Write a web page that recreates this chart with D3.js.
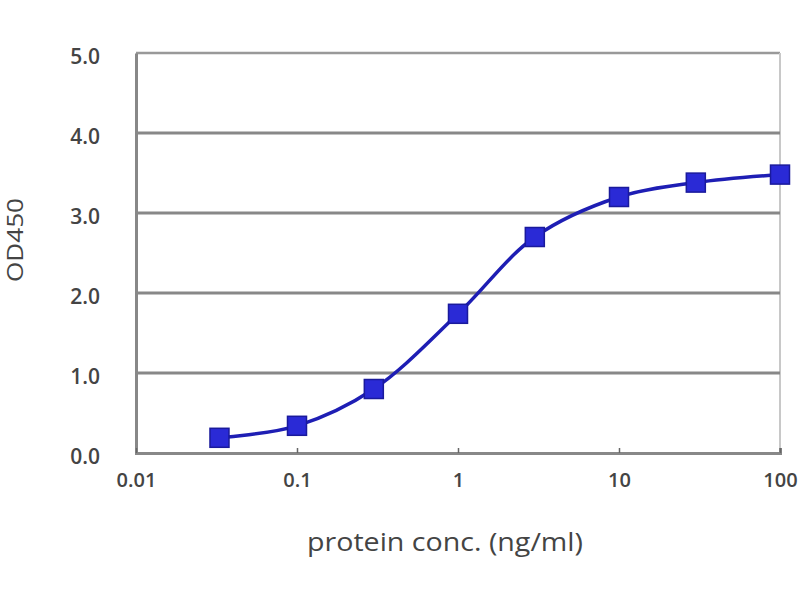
<!DOCTYPE html>
<html><head><meta charset="utf-8">
<script src="https://cdn.jsdelivr.net/npm/d3@7"></script>
<style>body{margin:0;background:#fff}</style>
</head><body>
<svg id="c" width="800" height="600"></svg>
<script>
const conc = [0.033, 0.1, 0.3, 1, 3, 10, 30, 100];
const od = [0.19, 0.34, 0.80, 1.74, 2.70, 3.20, 3.38, 3.48];
const xTicks = [0.01, 0.1, 1, 10, 100];
const xTickLabels = ["0.01", "0.1", "1", "10", "100"];
const yTicks = [0, 1, 2, 3, 4, 5];
const yTickLabels = ["0.0", "1.0", "2.0", "3.0", "4.0", "5.0"];

const svg = d3.select("#c");
const L = 136, R = 780, T = 53, B = 453;
const x = d3.scaleLog().domain([0.01, 100]).range([L, R]);
const y = d3.scaleLinear().domain([0, 5]).range([B, T]);
const font = "Open Sans, sans-serif";

// plot border (top/right)
svg.append("line").attr("x1", L).attr("x2", R).attr("y1", T).attr("y2", T)
  .attr("stroke", "#999").attr("stroke-width", 2.5);
svg.append("line").attr("x1", R).attr("x2", R).attr("y1", T).attr("y2", B)
  .attr("stroke", "#c8c8c8").attr("stroke-width", 2);

// gridlines
svg.append("g").selectAll("line").data(yTicks.filter(d => d > 0 && d < 5)).join("line")
  .attr("x1", L).attr("x2", R).attr("y1", d => y(d)).attr("y2", d => y(d))
  .attr("stroke", "#888").attr("stroke-width", 3);

// y axis
const ya = svg.append("g").attr("transform", `translate(${L},0)`)
  .call(d3.axisLeft(y).tickValues(yTicks).tickFormat((d, i) => yTickLabels[i]).tickSize(0).tickPadding(36));
ya.select(".domain").attr("stroke", "#888").attr("stroke-width", 3);
ya.selectAll("text").attr("font-family", font).attr("font-size", 21)
  .attr("fill", "#444").attr("font-weight", 600).attr("dy", "0.5em");

// x axis
const xa = svg.append("g").attr("transform", `translate(0,${B})`)
  .call(d3.axisBottom(x).tickValues(xTicks).tickFormat((d, i) => xTickLabels[i]).tickSize(-5).tickPadding(20));
xa.select(".domain").attr("stroke", "#888").attr("stroke-width", 3);
xa.selectAll(".tick line").attr("stroke", "#666").attr("stroke-width", 1.5);
xa.selectAll("text").attr("font-family", font).attr("font-size", 20)
  .attr("fill", "#444").attr("font-weight", 600);

// axis titles
svg.append("text").attr("x", 445).attr("y", 551).attr("text-anchor", "middle")
  .attr("font-family", font).attr("font-size", 25).attr("fill", "#444")
  .attr("textLength", 276).attr("lengthAdjust", "spacingAndGlyphs")
  .text("protein conc. (ng/ml)");
svg.append("text").attr("transform", "translate(23,240) rotate(-90)").attr("text-anchor", "middle")
  .attr("font-family", font).attr("font-size", 22).attr("fill", "#444")
  .attr("textLength", 84).attr("lengthAdjust", "spacingAndGlyphs")
  .text("OD450");

// curve
const data = conc.map((c, i) => ({c, v: od[i]}));
const line = d3.line().x(d => x(d.c)).y(d => y(d.v)).curve(d3.curveCatmullRom.alpha(0.5));
svg.append("path").datum(data).attr("d", line).attr("fill", "none")
  .attr("stroke", "#1e1eb4").attr("stroke-width", 3.5);

// markers
const s = 19;
svg.append("g").selectAll("rect").data(data).join("rect")
  .attr("x", d => x(d.c) - s / 2).attr("y", d => y(d.v) - s / 2)
  .attr("width", s).attr("height", s)
  .attr("fill", "#2a2ad6").attr("stroke", "#1a1a9c").attr("stroke-width", 1.5);
</script>
</body></html>
